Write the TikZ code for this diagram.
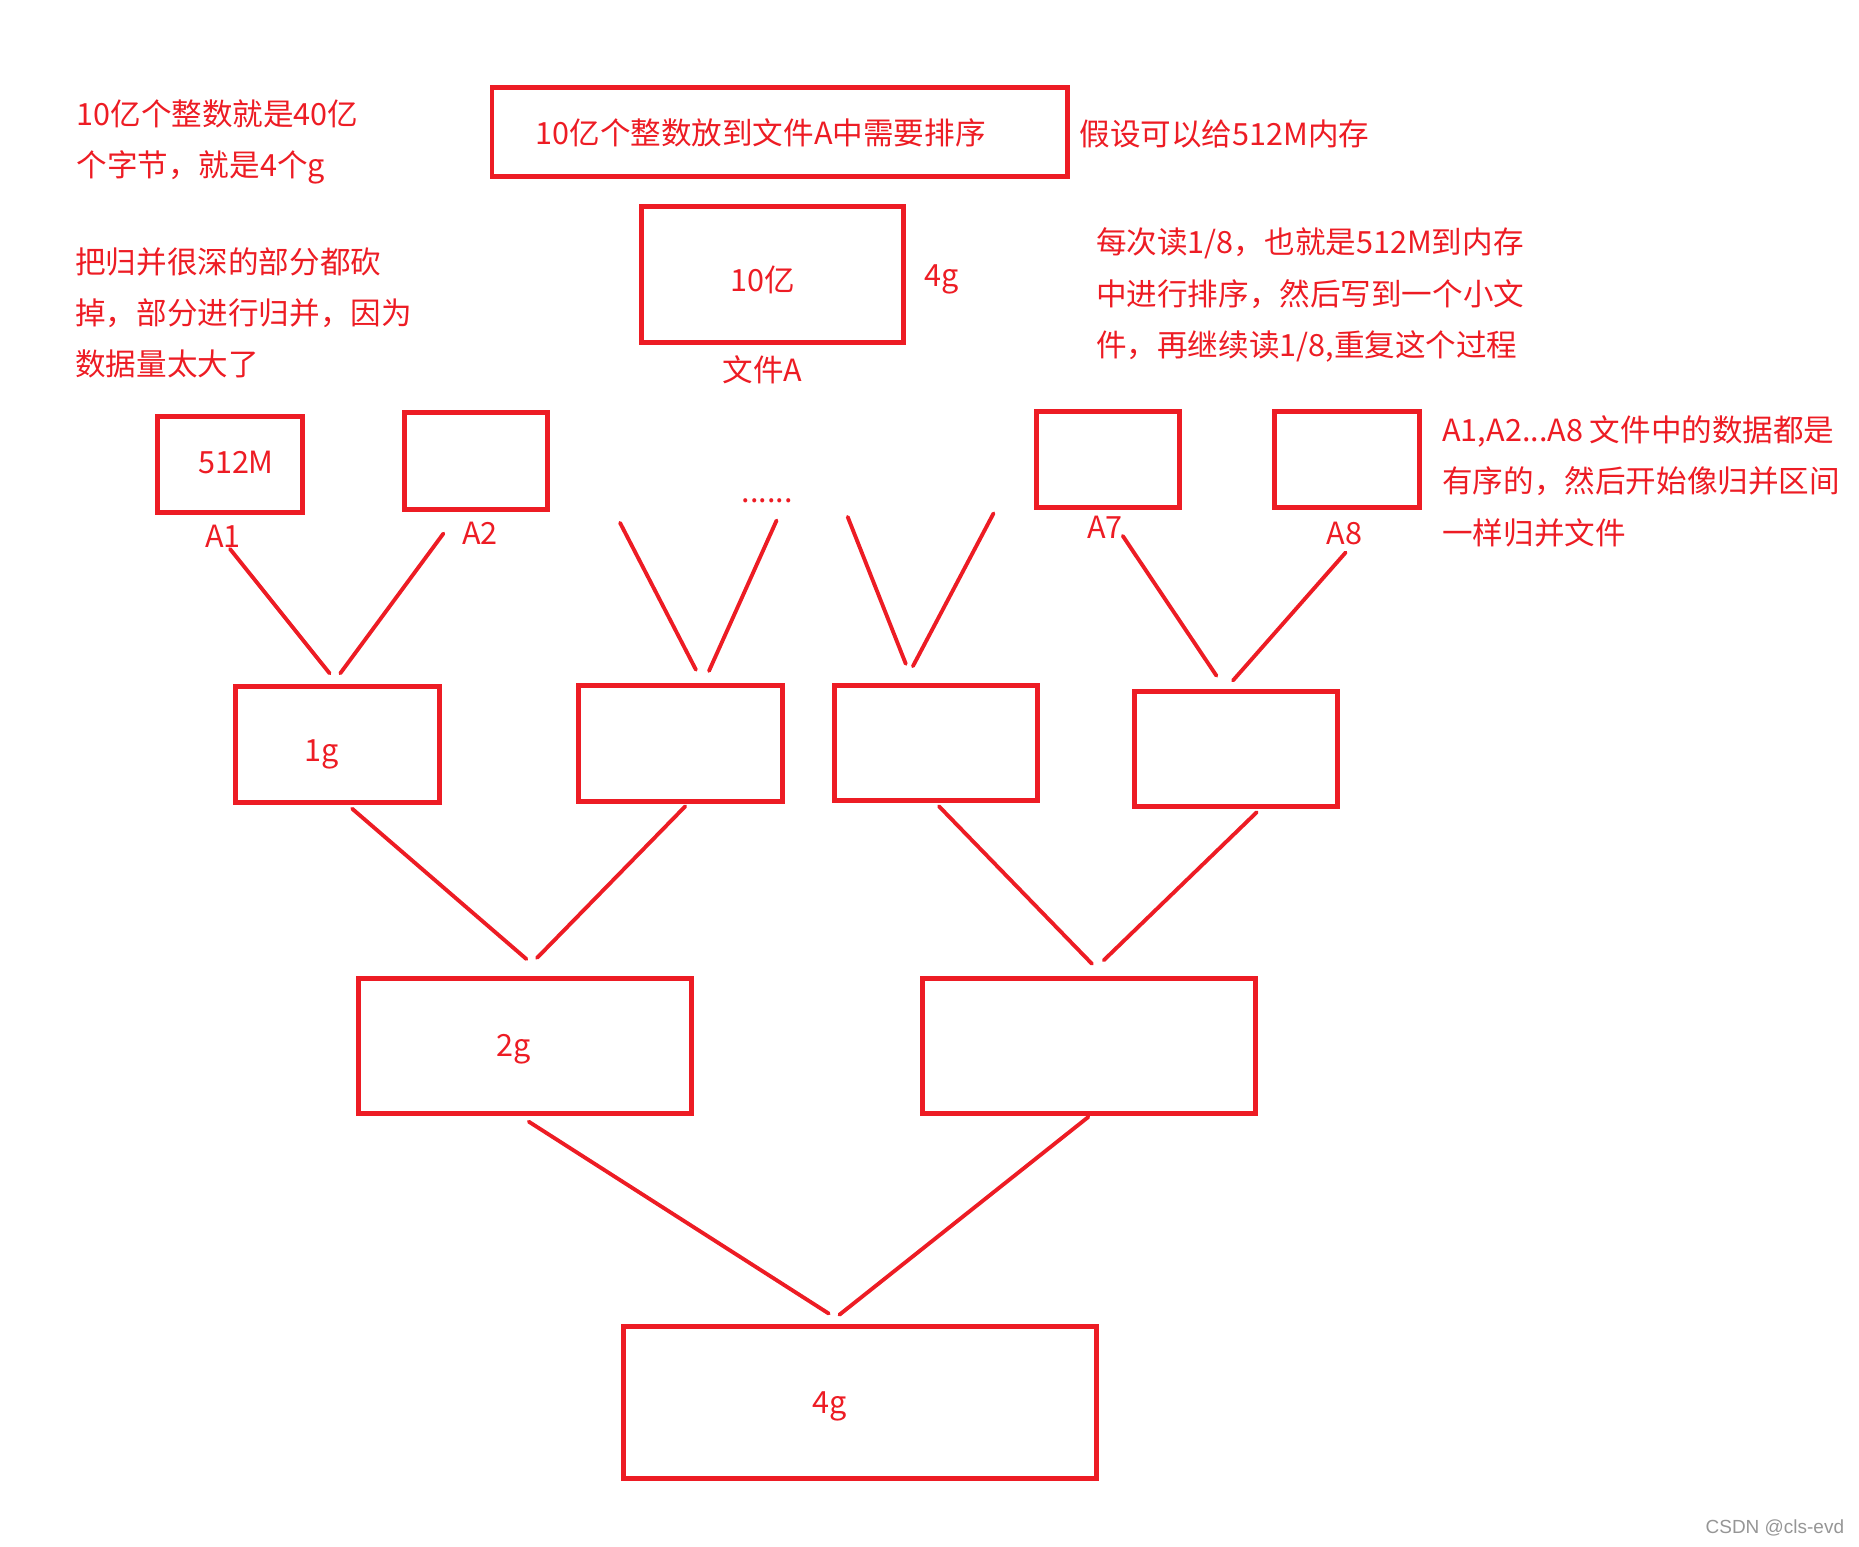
\documentclass[tikz,border=0pt]{standalone}
\usepackage{fontspec}
\setmainfont{Noto Sans CJK SC}
\newfontfamily\wmfont{Liberation Sans}
\usetikzlibrary{calc}
\definecolor{memred}{RGB}{237, 28, 36}
\definecolor{wmgray}{RGB}{150, 150, 150}
\def\upx{0.011856cm}
\tikzset{
  box/.style={draw=memred, line width=1.4pt, inner sep=0pt},
  link/.style={draw=memred, line width=1.1pt, line cap=round},
  note/.style={align=left, anchor=west, inner sep=0pt},
}

\begin{document}
\begin{tikzpicture}[x=\upx, y=-\upx, text=memred, font=\fontsize{8.7}{14.6}\selectfont]
  \useasboundingbox (0,0) rectangle (1568,1304);

  \node[box, minimum width=485*\upx, minimum height=75*\upx] (task) at (657.5,111.5) {};
  \node (tasktext) at (641.5,112) {10亿个整数放到文件A中需要排序};
  \node[box, minimum width=221*\upx, minimum height=115*\upx] (fileA) at (651.5,231.5) {};
  \node (fileAcount) at (643,236) {10亿};
  \node (fileAsize) at (794,236) {4g};
  \node (fileAname) at (643,312) {文件A};

  \node[box, minimum width=122*\upx, minimum height=81*\upx] (a1) at (194,391.5) {};
  \node (a1size) at (199,390) {512M};
  \node[box, minimum width=121*\upx, minimum height=82*\upx] (a2) at (401.5,389) {};
  \node[box, minimum width=121*\upx, minimum height=81*\upx] (a7) at (934.5,387.5) {};
  \node[box, minimum width=122*\upx, minimum height=81*\upx] (a8) at (1136,387.5) {};
  \node (a1name) at (188,452) {A1};
  \node (a2name) at (405,450) {A2};
  \node (a7name) at (932,445) {A7};
  \node (a8name) at (1134,450) {A8};
  \node (dots) at (647,422) {......};
  \coordinate (m1) at (523,441);
  \coordinate (m2) at (655,439);
  \coordinate (m3) at (715,436);
  \coordinate (m4) at (838,433);

  \node[box, minimum width=172*\upx, minimum height=98*\upx] (b1) at (285,628) {};
  \node (b1size) at (271,636) {1g};
  \node[box, minimum width=172*\upx, minimum height=98*\upx] (b2) at (574,627) {};
  \node[box, minimum width=171*\upx, minimum height=97*\upx] (b3) at (789.5,626.5) {};
  \node[box, minimum width=171*\upx, minimum height=97*\upx] (b4) at (1042.5,631.5) {};

  \node[box, minimum width=281*\upx, minimum height=114*\upx] (c1) at (442.5,882) {};
  \node (c1size) at (433,885) {2g};
  \node[box, minimum width=281*\upx, minimum height=114*\upx] (c2) at (918.5,882) {};

  \node[box, minimum width=399*\upx, minimum height=128*\upx] (d) at (725.5,1183) {};
  \node (dsize) at (700,1186) {4g};

  \node[note] (sizenote) at (64,120) {10亿个整数就是40亿\\个字节，就是4个g};
  \node[note] (cutnote) at (63,264) {把归并很深的部分都砍\\掉，部分进行归并，因为\\数据量太大了};
  \node[note] (memnote) at (910,113) {假设可以给512M内存};
  \node[note] (readnote) at (924,249) {每次读1/8，也就是512M到内存\\中进行排序，然后写到一个小文\\件，再继续读1/8,重复这个过程};
  \node[note] (ordernote) at (1216,406) {A1,A2...A8 文件中的数据都是\\有序的，然后开始像归并区间\\一样归并文件};
  \node[font=\wmfont\fontsize{5.4}{6}\selectfont, text=wmgray, anchor=east, inner sep=0pt] (mark) at (1556,1289) {CSDN @cls-evd};

  \draw[link] ($(a1name.center)+(6,11)$) -- ($(b1.north)+(-7,-9)$);
  \draw[link] ($(a2name.center)+(-31,0)$) -- ($(b1.north)+(2,-9)$);
  \draw[link] (m1) -- ($(b2.north)+(13,-11)$);
  \draw[link] (m2) -- ($(b2.north)+(24,-10)$);
  \draw[link] (m3) -- ($(b3.north)+(-25.5,-16)$);
  \draw[link] (m4) -- ($(b3.north)+(-19.5,-14)$);
  \draw[link] ($(a7name.center)+(15,7)$) -- ($(b4.north)+(-16.5,-11)$);
  \draw[link] ($(a8name.center)+(1,16)$) -- ($(b4.north)+(-2.5,-7)$);
  \draw[link] ($(b1.south)+(12,3)$) -- ($(c1.north)+(1.5,-14)$);
  \draw[link] ($(b2.south)+(4,2)$) -- ($(c1.north)+(10.5,-15)$);
  \draw[link] ($(b3.south)+(2.5,3)$) -- ($(c2.north)+(2.5,-10)$);
  \draw[link] ($(b4.south)+(17.5,3)$) -- ($(c2.north)+(12.5,-13)$);
  \draw[link] ($(c1.south)+(3.5,5)$) -- ($(d.north)+(-26.5,-9)$);
  \draw[link] ($(c2.south)+(-0.5,1)$) -- ($(d.north)+(-17.5,-8)$);
\end{tikzpicture}
\end{document}
